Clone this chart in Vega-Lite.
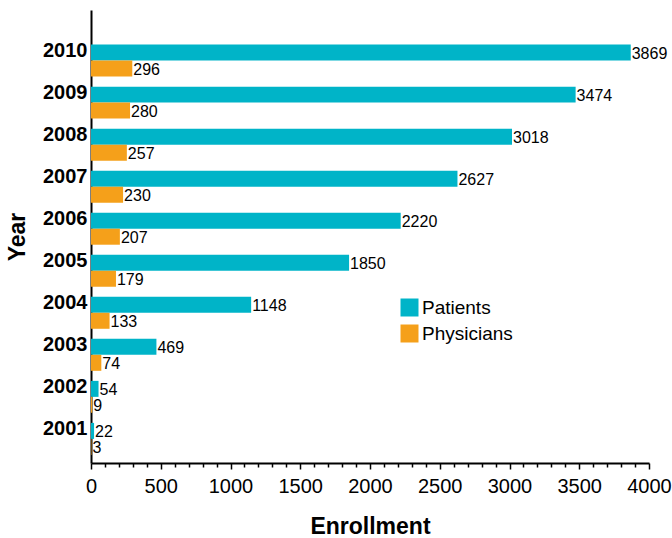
{
  "$schema": "https://vega.github.io/schema/vega-lite/v6.json",
  "autosize": "none",
  "width": 558,
  "height": 453,
  "padding": {"left": 91, "top": 10, "right": 23, "bottom": 75},
  "background": "white",
  "config": {"view": {"stroke": null}},
  "data": {
    "values": [
      {"Year": "2010", "Series": "Patients", "Enrollment": 3869},
      {"Year": "2010", "Series": "Physicians", "Enrollment": 296},
      {"Year": "2009", "Series": "Patients", "Enrollment": 3474},
      {"Year": "2009", "Series": "Physicians", "Enrollment": 280},
      {"Year": "2008", "Series": "Patients", "Enrollment": 3018},
      {"Year": "2008", "Series": "Physicians", "Enrollment": 257},
      {"Year": "2007", "Series": "Patients", "Enrollment": 2627},
      {"Year": "2007", "Series": "Physicians", "Enrollment": 230},
      {"Year": "2006", "Series": "Patients", "Enrollment": 2220},
      {"Year": "2006", "Series": "Physicians", "Enrollment": 207},
      {"Year": "2005", "Series": "Patients", "Enrollment": 1850},
      {"Year": "2005", "Series": "Physicians", "Enrollment": 179},
      {"Year": "2004", "Series": "Patients", "Enrollment": 1148},
      {"Year": "2004", "Series": "Physicians", "Enrollment": 133},
      {"Year": "2003", "Series": "Patients", "Enrollment": 469},
      {"Year": "2003", "Series": "Physicians", "Enrollment": 74},
      {"Year": "2002", "Series": "Patients", "Enrollment": 54},
      {"Year": "2002", "Series": "Physicians", "Enrollment": 9},
      {"Year": "2001", "Series": "Patients", "Enrollment": 22},
      {"Year": "2001", "Series": "Physicians", "Enrollment": 3}
    ]
  },
  "encoding": {
    "y": {
      "field": "Year", "type": "nominal", "sort": "descending",
      "scale": {"paddingInner": 0.239, "paddingOuter": 0.508, "align": 0.81},
      "axis": {
        "title": "Year", "titleFont": "Liberation Sans", "titleFontSize": 23, "titleFontWeight": "bold", "titleColor": "black", "titlePadding": 13,
        "labelFont": "Liberation Sans", "labelFontSize": 20, "labelFontWeight": "bold", "labelColor": "black",
        "labelOffset": -10, "labelPadding": 4, "ticks": false,
        "domainColor": "black", "domainWidth": 2, "grid": false
      }
    },
    "yOffset": {"field": "Series", "type": "nominal", "scale": {"paddingInner": 0, "paddingOuter": 0}},
    "x": {
      "field": "Enrollment", "type": "quantitative",
      "scale": {"domain": [0, 4000], "nice": false},
      "axis": {
        "title": "Enrollment", "titleFont": "Liberation Sans", "titleFontSize": 23, "titleFontWeight": "bold", "titleColor": "black", "titlePadding": 19,
        "values": [0,100,200,300,400,500,600,700,800,900,1000,1100,1200,1300,1400,1500,1600,1700,1800,1900,2000,2100,2200,2300,2400,2500,2600,2700,2800,2900,3000,3100,3200,3300,3400,3500,3600,3700,3800,3900,4000],
        "labelExpr": "datum.value % 500 === 0 ? datum.value : ''",
        "labelFont": "Liberation Sans", "labelFontSize": 20, "labelColor": "black", "labelPadding": 7,
        "labelOverlap": false, "labelFlush": false,
        "tickColor": "black", "tickWidth": 1.5,
        "tickSize": {"condition": {"test": "datum.value % 500 === 0", "value": 6}, "value": 4},
        "domainColor": "black", "domainWidth": 2, "grid": false
      }
    }
  },
  "layer": [
    {
      "mark": {"type": "bar"},
      "encoding": {
        "color": {
          "field": "Series", "type": "nominal",
          "scale": {"domain": ["Patients", "Physicians"], "range": ["#00b4c8", "#f5a01a"]},
          "legend": {
            "title": null, "orient": "none", "legendX": 309, "legendY": 288,
            "symbolType": "square", "symbolSize": 324, "symbolStrokeWidth": 0, "symbolOpacity": 1,
            "labelFont": "Liberation Sans", "labelFontSize": 19, "labelColor": "black",
            "labelOffset": 3, "rowPadding": 6
          }
        }
      }
    },
    {
      "mark": {"type": "text", "align": "left", "baseline": "middle", "dx": 1, "dy": 1, "font": "Liberation Sans", "fontSize": 16, "color": "black"},
      "encoding": {"text": {"field": "Enrollment", "type": "quantitative"}}
    }
  ]
}
